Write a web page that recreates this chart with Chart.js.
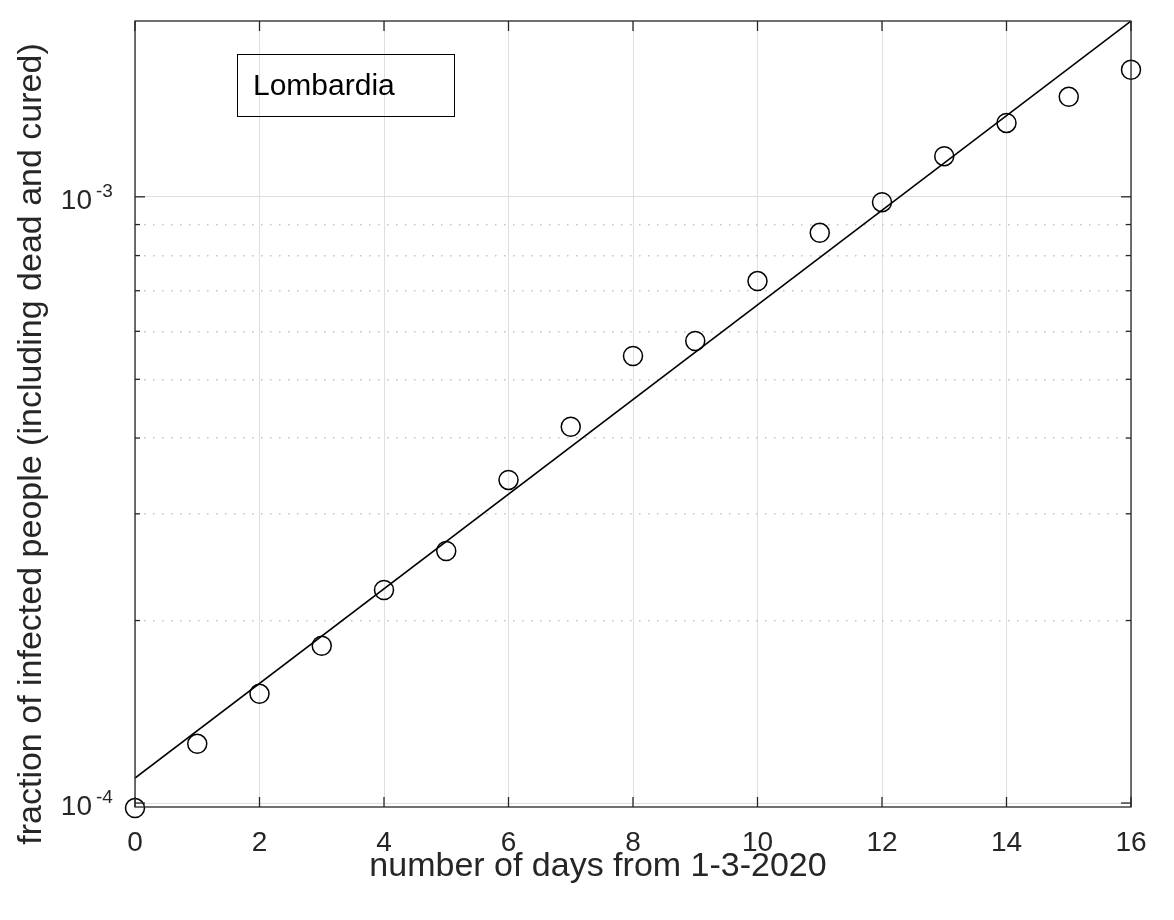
<!DOCTYPE html>
<html>
<head>
<meta charset="utf-8">
<title>Lombardia</title>
<script src="https://cdn.jsdelivr.net/npm/chart.js@4.4.1/dist/chart.umd.min.js"></script>
<style>
  html, body { margin: 0; padding: 0; background: #fff; }
  canvas { display: block; }
</style>
</head>
<body>
<canvas id="chart" width="1174" height="920"></canvas>
<script>
// Data
const days = [0, 1, 2, 3, 4, 5, 6, 7, 8, 9, 10, 11, 12, 13, 14, 15, 16];
const infected = [
    0.981e-4, 1.252e-4, 1.514e-4, 1.817e-4, 2.246e-4, 2.604e-4, 3.412e-4, 4.175e-4,
    5.463e-4, 5.783e-4, 7.261e-4, 8.722e-4, 9.80e-4, 1.167e-3, 1.324e-3, 1.462e-3, 1.620e-3
];
// exponential fit, straight line on the log axis
const fitDays = [0, 16];
const fitValues = [1.0995e-4, 1.95e-3];

const xTicks = [0, 2, 4, 6, 8, 10, 12, 14, 16];
const yGridValues = [1e-4, 2e-4, 3e-4, 4e-4, 5e-4, 6e-4, 7e-4, 8e-4, 9e-4, 1e-3];
const yMajorValues = [1e-4, 1e-3];
const yMajorExponents = ['-4', '-3'];
const yMin = 0.985e-4;
const yMax = 1.95e-3;

const xTitle = 'number of days from 1-3-2020';
const yTitle = 'fraction of infected people (including dead and cured)';
const legendText = 'Lombardia';

const FONT = '"Liberation Sans", Arial, Helvetica, sans-serif';
const TEXT = '#262626';

function isMajor(v) {
    return yMajorValues.some(m => Math.abs(m - v) / m < 1e-6);
}

// box, inward ticks, y labels with exponents, titles and legend
const matlabAxes = {
    id: 'matlabAxes',
    afterDraw(chart) {
        const { ctx, chartArea: a, scales: { x, y } } = chart;
        ctx.save();
        ctx.strokeStyle = TEXT;
        ctx.lineWidth = 1.3;

        const line = (x1, y1, x2, y2) => {
            ctx.beginPath();
            ctx.moveTo(x1, y1);
            ctx.lineTo(x2, y2);
            ctx.stroke();
        };

        // x ticks, top and bottom
        xTicks.forEach(v => {
            const px = x.getPixelForValue(v);
            line(px, a.bottom, px, a.bottom - 10);
            line(px, a.top, px, a.top + 10);
        });

        // y ticks, left and right
        yGridValues.forEach(v => {
            const py = y.getPixelForValue(v);
            const len = isMajor(v) ? 10 : 5;
            line(a.left, py, a.left + len, py);
            line(a.right, py, a.right - len, py);
        });

        // box
        ctx.strokeRect(a.left, a.top, a.right - a.left, a.bottom - a.top);

        // y tick labels: 10 with superscript exponent
        ctx.fillStyle = TEXT;
        yMajorValues.forEach((v, i) => {
            const py = y.getPixelForValue(v);
            ctx.font = '28px ' + FONT;
            ctx.textAlign = 'right';
            ctx.textBaseline = 'alphabetic';
            ctx.fillText('10', 92, py + 12);
            ctx.font = '19px ' + FONT;
            ctx.textAlign = 'left';
            ctx.fillText(yMajorExponents[i], 96, py);
        });

        // axis titles
        ctx.font = '34px ' + FONT;
        ctx.textAlign = 'center';
        ctx.textBaseline = 'middle';
        ctx.fillText(xTitle, 598, 867);
        ctx.save();
        ctx.translate(32, 444);
        ctx.rotate(-Math.PI / 2);
        ctx.fillText(yTitle, 0, 0);
        ctx.restore();

        // legend box (no fill, grid shows through)
        ctx.strokeStyle = '#000';
        ctx.lineWidth = 1;
        ctx.strokeRect(237.5, 54.5, 217, 62);
        ctx.fillStyle = '#000';
        ctx.font = '30px ' + FONT;
        ctx.textAlign = 'left';
        ctx.textBaseline = 'alphabetic';
        ctx.fillText(legendText, 253, 95);

        ctx.restore();
    }
};

new Chart(document.getElementById('chart'), {
    type: 'scatter',
    data: {
        datasets: [
            {
                type: 'line',
                label: 'fit',
                data: fitDays.map((d, i) => ({ x: d, y: fitValues[i] })),
                borderColor: '#000',
                borderWidth: 1.5,
                pointRadius: 0,
                fill: false,
                tension: 0
            },
            {
                label: legendText,
                data: days.map((d, i) => ({ x: d, y: infected[i] })),
                pointRadius: 9.5,
                pointBorderWidth: 1.5,
                pointBorderColor: '#000',
                pointBackgroundColor: 'rgba(0,0,0,0)',
                showLine: false,
                clip: false
            }
        ]
    },
    options: {
        responsive: false,
        animation: false,
        events: [],
        layout: { padding: { top: 21, right: 43, left: 0, bottom: 0 } },
        plugins: {
            legend: { display: false },
            tooltip: { enabled: false }
        },
        scales: {
            x: {
                type: 'linear',
                min: 0,
                max: 16,
                afterFit: s => { s.height = 113; },
                afterBuildTicks: s => { s.ticks = xTicks.map(v => ({ value: v })); },
                ticks: {
                    font: { family: FONT, size: 28 },
                    color: TEXT,
                    padding: 19,
                    maxRotation: 0
                },
                grid: { color: '#dfdfdf', lineWidth: 1, drawTicks: false },
                border: { display: false }
            },
            y: {
                type: 'logarithmic',
                min: yMin,
                max: yMax,
                afterFit: s => { s.width = 135; },
                afterBuildTicks: s => { s.ticks = yGridValues.map(v => ({ value: v })); },
                ticks: { display: false },
                grid: {
                    drawTicks: false,
                    lineWidth: c => isMajor(c.tick.value) ? 1 : 1.5,
                    color: c => isMajor(c.tick.value) ? '#dfdfdf' : '#c4c4c4'
                },
                border: {
                    display: false,
                    dash: c => (c.tick && !isMajor(c.tick.value)) ? [1.5, 7.5] : []
                }
            }
        }
    },
    plugins: [matlabAxes]
});
</script>
</body>
</html>
